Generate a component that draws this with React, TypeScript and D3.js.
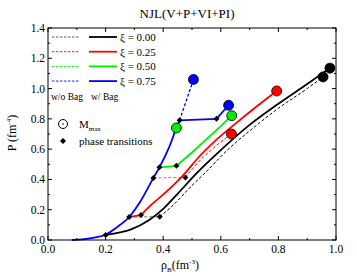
import React from 'react';
import * as d3 from 'd3';

// common low-density branch (all xi follow it before their transitions)
const baseCurve: [number, number][] = [
  [0.083, 0], [0.12, 0.004], [0.16, 0.016], [0.2, 0.035], [0.24, 0.085],
  [0.282, 0.152], [0.32, 0.252], [0.366, 0.41], [0.387, 0.48], [0.42, 0.61],
  [0.446, 0.74], [0.457, 0.79],
];

// xi = 0.00
const blackBag: [number, number][] = [
  [0.2, 0.033], [0.25, 0.05], [0.286, 0.068], [0.35, 0.13], [0.402, 0.209],
  [0.45, 0.305], [0.518, 0.445], [0.6, 0.594], [0.7, 0.76], [0.8, 0.9],
  [0.9, 1.03], [0.979, 1.135],
];
const blackNoBagFlat: [number, number][] = [[0.282, 0.152], [0.388, 0.154]];
const blackNoBag: [number, number][] = [
  [0.388, 0.154], [0.43, 0.222], [0.5, 0.36], [0.55, 0.452], [0.623, 0.594],
  [0.7, 0.72], [0.8, 0.87], [0.9, 1.0], [0.955, 1.077],
];

// xi = 0.25
const redBagFlat: [number, number][] = [[0.282, 0.152], [0.323, 0.165]];
const redBag: [number, number][] = [
  [0.323, 0.165], [0.36, 0.235], [0.4, 0.3], [0.44, 0.37], [0.48, 0.45],
  [0.52, 0.54], [0.575, 0.645], [0.65, 0.767], [0.72, 0.875], [0.794, 0.984],
];
const redNoBagFlat: [number, number][] = [[0.366, 0.41], [0.477, 0.413]];
const redNoBag: [number, number][] = [
  [0.477, 0.413], [0.5, 0.465], [0.53, 0.53], [0.564, 0.59], [0.6, 0.648], [0.637, 0.7],
];

// xi = 0.50
const greenBagFlat: [number, number][] = [[0.387, 0.48], [0.446, 0.49]];
const greenBag: [number, number][] = [
  [0.446, 0.49], [0.5, 0.578], [0.55, 0.665], [0.6, 0.752], [0.638, 0.821],
];

// xi = 0.75
const blueBagFlat: [number, number][] = [[0.457, 0.79], [0.585, 0.8]];
const blueBag: [number, number][] = [[0.585, 0.8], [0.627, 0.89]];
const blueNoBag: [number, number][] = [[0.457, 0.79], [0.48, 0.92], [0.505, 1.06]];

// markers
const transitions: [number, number][] = [
  [0.2, 0.033], [0.282, 0.152], [0.323, 0.165], [0.388, 0.154],
  [0.366, 0.41], [0.477, 0.413], [0.387, 0.48], [0.446, 0.49],
  [0.457, 0.79], [0.585, 0.8],
];
const maxMass: { x: number; y: number; c: string }[] = [
  { x: 0.955, y: 1.077, c: '#000000' }, { x: 0.979, y: 1.135, c: '#000000' },
  { x: 0.637, y: 0.7, c: '#ff0000' }, { x: 0.794, y: 0.984, c: '#ff0000' },
  { x: 0.446, y: 0.74, c: '#00ee00' }, { x: 0.638, y: 0.821, c: '#00ee00' },
  { x: 0.505, y: 1.06, c: '#0000ff' }, { x: 0.627, y: 0.89, c: '#0000ff' },
];

const legendLabels = ['ξ = 0.00', 'ξ = 0.25', 'ξ = 0.50', 'ξ = 0.75'];
const legendColors = ['#000000', '#ff0000', '#00ee00', '#0000ff'];
const xTicks = [0, 0.2, 0.4, 0.6, 0.8, 1.0];
const yTicks = [0, 0.2, 0.4, 0.6, 0.8, 1.0, 1.2, 1.4];

const W = 357, H = 276;
const m = { left: 48, right: 336, top: 28, bottom: 240 };
const font = '"Liberation Serif", "Times New Roman", serif';

export default function App() {
  const x = d3.scaleLinear().domain([0, 1]).range([m.left, m.right]);
  const y = d3.scaleLinear().domain([0, 1.4]).range([m.bottom, m.top]);
  const smooth = d3.line<[number, number]>().x(d => x(d[0])).y(d => y(d[1])).curve(d3.curveMonotoneX);
  const straight = d3.line<[number, number]>().x(d => x(d[0])).y(d => y(d[1]));

  const minorX = d3.range(0, 1.01, 0.1);
  const minorY = d3.range(0, 1.41, 0.1);
  const diamond = (px: number, py: number, s = 3) =>
    `M${px},${py - s}L${px + s},${py}L${px},${py + s}L${px - s},${py}Z`;

  const dashed = { fill: 'none', strokeWidth: 1, strokeDasharray: '3,2' };
  const solid = { fill: 'none', strokeWidth: 1.8 };

  return (
    <svg width={W} height={H} style={{ position: 'absolute', left: 0, top: 0, background: '#fff' }}
      fontFamily={font}>
      <text x={187} y={18} fontSize={13} textAnchor="middle">NJL(V+P+VI+PI)</text>

      {/* w/o Bag lines */}
      <path d={smooth(baseCurve.filter(d => d[0] <= 0.282))!} stroke="#444" {...dashed} />
      <path d={straight(blackNoBagFlat)!} stroke="#777" {...dashed} />
      <path d={smooth(blackNoBag)!} stroke="#000" {...dashed} />
      <path d={straight(redNoBagFlat)!} stroke="#ff5555" {...dashed} />
      <path d={smooth(redNoBag)!} stroke="#ff0000" {...dashed} />
      <path d={smooth(blueNoBag)!} stroke="#0000ff" {...dashed} strokeWidth={1.3} />

      {/* w/ Bag lines */}
      <path d={smooth(blackBag)!} stroke="#000" {...solid} />
      <path d={straight(redBagFlat)!} stroke="#ff0000" {...solid} />
      <path d={smooth(redBag)!} stroke="#ff0000" {...solid} />
      <path d={straight(greenBagFlat)!} stroke="#00ee00" {...solid} />
      <path d={straight(greenBag)!} stroke="#00ee00" {...solid} />
      <path d={smooth(baseCurve)!} stroke="#0000ff" {...solid} />
      <path d={straight(blueBagFlat)!} stroke="#0000ff" {...solid} />
      <path d={straight(blueBag)!} stroke="#0000ff" {...solid} />

      {transitions.map((d, i) => (
        <path key={'t' + i} d={diamond(x(d[0]), y(d[1]))} fill="#000" />
      ))}
      {maxMass.map((d, i) => (
        <circle key={'c' + i} cx={x(d.x)} cy={y(d.y)} r={5} fill={d.c} stroke="#000" strokeWidth={0.8} />
      ))}

      {/* frame and ticks */}
      <rect x={m.left} y={m.top} width={m.right - m.left} height={m.bottom - m.top} fill="none" stroke="#000" strokeWidth={1} />
      {minorX.map((v, i) => {
        const len = i % 2 === 0 ? 4 : 2;
        return (
          <g key={'mx' + i}>
            <line x1={x(v)} x2={x(v)} y1={m.bottom} y2={m.bottom - len} stroke="#000" />
            <line x1={x(v)} x2={x(v)} y1={m.top} y2={m.top + len} stroke="#000" />
          </g>
        );
      })}
      {minorY.map((v, i) => {
        const len = i % 2 === 0 ? 4 : 2;
        return (
          <g key={'my' + i}>
            <line x1={m.left} x2={m.left + len} y1={y(v)} y2={y(v)} stroke="#000" />
            <line x1={m.right} x2={m.right - len} y1={y(v)} y2={y(v)} stroke="#000" />
          </g>
        );
      })}
      {xTicks.map(v => (
        <text key={'xl' + v} x={x(v)} y={253} fontSize={11.5} textAnchor="middle">{v.toFixed(1)}</text>
      ))}
      {yTicks.map(v => (
        <text key={'yl' + v} x={45} y={y(v) + 4} fontSize={11.5} textAnchor="end">{v.toFixed(1)}</text>
      ))}

      {/* axis titles */}
      <text x={180} y={269} fontSize={12} textAnchor="middle">
        ρ<tspan fontSize={7} dy={3}>B</tspan><tspan dy={-3}>(fm</tspan><tspan fontSize={7} dy={-5}>-3</tspan><tspan dy={5}>)</tspan>
      </text>
      <text transform="translate(16,133) rotate(-90)" fontSize={12} textAnchor="middle">
        P (fm<tspan fontSize={7} dy={-5}>-4</tspan><tspan dy={5}>)</tspan>
      </text>

      {/* legend */}
      {legendLabels.map((t, i) => {
        const ly = 37 + i * 14.7;
        return (
          <g key={'lg' + i}>
            <line x1={52} x2={80} y1={ly} y2={ly} stroke={i === 0 ? '#444' : legendColors[i]} strokeWidth={0.9} strokeDasharray="2.5,1.5" />
            <line x1={89} x2={117} y1={ly} y2={ly} stroke={legendColors[i]} strokeWidth={1.8} />
            <text x={120} y={ly + 4} fontSize={11}>{t}</text>
          </g>
        );
      })}
      <text x={51} y={100} fontSize={9.5}>w/o Bag</text>
      <text x={91} y={100} fontSize={9.5}>w/ Bag</text>
      <circle cx={63} cy={124} r={4.5} fill="none" stroke="#000" strokeWidth={1} />
      <circle cx={63} cy={124} r={0.8} fill="#000" />
      <text x={79} y={128} fontSize={11}>M<tspan fontSize={7} dy={3}>max</tspan></text>
      <path d={diamond(63, 141)} fill="#000" />
      <text x={79} y={145} fontSize={11}>phase transitions</text>
    </svg>
  );
}
